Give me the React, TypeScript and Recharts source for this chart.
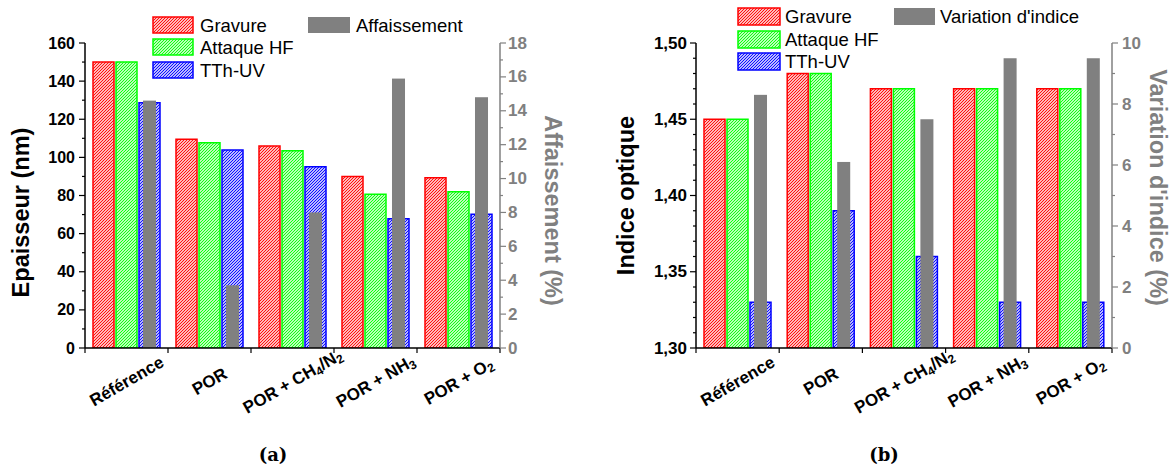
import { BarChart, Bar, XAxis, YAxis, Label } from "recharts";

const CATEGORIES = ["Référence", "POR", "POR + CH_4/N_2", "POR + NH_3", "POR + O_2"];

// (a) épaisseur (nm) et affaissement (%)
const GRAVURE_EP = [150, 109.5, 106, 90, 89.3];
const HF_EP = [150, 107.7, 103.5, 80.6, 82];
const UV_EP = [128.7, 103.9, 95.1, 67.8, 70.1];
const AFFAISSEMENT = [14.6, 3.7, 8.0, 15.9, 14.8];

// (b) indice optique et variation d'indice (%)
const GRAVURE_IND = [1.45, 1.48, 1.47, 1.47, 1.47];
const HF_IND = [1.45, 1.48, 1.47, 1.47, 1.47];
const UV_IND = [1.33, 1.39, 1.36, 1.33, 1.33];
const VARIATION = [8.3, 6.1, 7.5, 9.5, 9.5];

const EP_TICKS = [0, 10, 20, 30, 40, 50, 60, 70, 80, 90, 100, 110, 120, 130, 140, 150, 160];
const AFF_TICKS = [0, 1, 2, 3, 4, 5, 6, 7, 8, 9, 10, 11, 12, 13, 14, 15, 16, 17, 18];
const IND_TICKS = [
  1.3, 1.31, 1.32, 1.33, 1.34, 1.35, 1.36, 1.37, 1.38, 1.39, 1.4,
  1.41, 1.42, 1.43, 1.44, 1.45, 1.46, 1.47, 1.48, 1.49, 1.5,
];
const VAR_TICKS = [0, 1, 2, 3, 4, 5, 6, 7, 8, 9, 10];

const SERIES = ["Gravure", "Attaque HF", "TTh-UV"];
const RED = "#ff0000";
const GREEN = "#00ff00";
const BLUE = "#0000ff";
const GRAY = "#808080";
const FONT = "'Liberation Sans', Arial, sans-serif";

type Row = { cat: string; gravure: number; hf: number; uv: number; gray: number };

const buildRows = (g: number[], h: number[], u: number[], gr: number[]): Row[] =>
  CATEGORIES.map((cat, i) => ({ cat, gravure: g[i], hf: h[i], uv: u[i], gray: gr[i] }));

const rowsA = buildRows(GRAVURE_EP, HF_EP, UV_EP, AFFAISSEMENT);
const rowsB = buildRows(GRAVURE_IND, HF_IND, UV_IND, VARIATION);

// "/" hatch, 3px period
function HatchDefs({ prefix }: { prefix: string }) {
  const list: [string, string][] = [
    ["red", RED],
    ["green", GREEN],
    ["blue", BLUE],
  ];
  return (
    <defs>
      {list.map(([k, c]) => (
        <pattern key={k} id={`${prefix}-${k}`} patternUnits="userSpaceOnUse" width={3} height={3}>
          <rect width={3} height={3} fill="#fff" />
          <path d="M0,3 L3,0 M-1,1 L1,-1 M2,4 L4,2" stroke={c} strokeWidth={1.05} />
        </pattern>
      ))}
    </defs>
  );
}

// category label with simple "_d" subscripts
function CatLabel({ text, x, y }: { text: string; x: number; y: number }) {
  const parts = text.split(/_(\d)/);
  let shifted = false;
  return (
    <text
      transform={`translate(${x},${y}) rotate(-30)`}
      textAnchor="middle"
      dominantBaseline="central"
      fontFamily={FONT}
      fontWeight="bold"
      fontSize={17}
      fill="#000"
    >
      {parts.map((p, i) => {
        if (p === "") return null;
        if (i % 2 === 1) {
          shifted = true;
          return (
            <tspan key={i} dy={5} fontSize={12}>
              {p}
            </tspan>
          );
        }
        const dy = shifted ? -5 : 0;
        shifted = false;
        return (
          <tspan key={i} dy={dy}>
            {p}
          </tspan>
        );
      })}
    </text>
  );
}

type PanelCfg = {
  id: string;
  left: number;
  width: number;
  axisLeftW: number;
  axisRightW: number;
  data: Row[];
  leftDomain: [number, number];
  leftTicks: number[];
  leftMajor: (v: number) => boolean;
  leftFmt: (v: number) => string;
  leftFont: number;
  leftGap: number;
  rightDomain: [number, number];
  rightTicks: number[];
  rightMajor: (v: number) => boolean;
  rightFont: number;
  rightGap: number;
  leftTitle: string;
  leftTitleDx: number;
  leftTitleDy: number;
  rightTitle: string;
  rightTitleDx: number;
  rightTitleDy: number;
};

const HEIGHT = 464;
const TOP = 43;
const AXIS_Y = 348;

function Panel(cfg: PanelCfg) {
  const plotW = cfg.width - cfg.axisLeftW - cfg.axisRightW;
  const band = plotW / CATEGORIES.length;
  const p = cfg.id;

  const leftTick = (props: any) => {
    const { x, y, payload } = props;
    const v = payload.value as number;
    const major = cfg.leftMajor(v);
    return (
      <g>
        <line x1={x - (major ? 6 : 3)} x2={x} y1={y} y2={y} stroke="#000" strokeWidth={1.2} />
        {major && (
          <text
            x={x - cfg.leftGap}
            y={y}
            textAnchor="end"
            dominantBaseline="central"
            fontFamily={FONT}
            fontWeight="bold"
            fontSize={cfg.leftFont}
            fill="#000"
          >
            {cfg.leftFmt(v)}
          </text>
        )}
      </g>
    );
  };

  const rightTick = (props: any) => {
    const { x, y, payload } = props;
    const v = payload.value as number;
    const major = cfg.rightMajor(v);
    return (
      <g>
        <line x1={x} x2={x + (major ? 6 : 3)} y1={y} y2={y} stroke={GRAY} strokeWidth={1.2} />
        {major && (
          <text
            x={x + cfg.rightGap}
            y={y}
            textAnchor="start"
            dominantBaseline="central"
            fontFamily={FONT}
            fontWeight="bold"
            fontSize={cfg.rightFont}
            fill={GRAY}
          >
            {v}
          </text>
        )}
      </g>
    );
  };

  const catTick = (props: any) => {
    const { x, y, payload, index } = props;
    return (
      <g>
        <line x1={x + band / 2} x2={x + band / 2} y1={y} y2={y + 5} stroke="#000" strokeWidth={1.2} />
        {index === 0 && (
          <line x1={x - band / 2} x2={x - band / 2} y1={y} y2={y + 5} stroke="#000" strokeWidth={1.2} />
        )}
        <CatLabel text={payload.value} x={x} y={y + 33} />
      </g>
    );
  };

  const grayShape = (props: any) => {
    const { x, y, width, height } = props;
    if (!height || height <= 0) return <g />;
    const w = width * 0.62;
    return <rect x={x + (width - w) / 2} y={y} width={w} height={height} fill={GRAY} />;
  };

  const leftTitle = (props: any) => {
    const vb = props.viewBox;
    const cx = vb.x + cfg.leftTitleDx;
    const cy = vb.y + vb.height / 2 + cfg.leftTitleDy;
    return (
      <text
        x={cx}
        y={cy}
        transform={`rotate(-90 ${cx} ${cy})`}
        textAnchor="middle"
        dominantBaseline="central"
        fontFamily={FONT}
        fontWeight="bold"
        fontSize={23.5}
        fill="#000"
      >
        {cfg.leftTitle}
      </text>
    );
  };

  const rightTitle = (props: any) => {
    const vb = props.viewBox;
    const cx = vb.x + cfg.rightTitleDx;
    const cy = vb.y + vb.height / 2 + cfg.rightTitleDy;
    return (
      <text
        x={cx}
        y={cy}
        transform={`rotate(90 ${cx} ${cy})`}
        textAnchor="middle"
        dominantBaseline="central"
        fontFamily={FONT}
        fontWeight="bold"
        fontSize={23.5}
        fill={GRAY}
      >
        {cfg.rightTitle}
      </text>
    );
  };

  return (
    <div style={{ position: "absolute", left: cfg.left, top: 0 }}>
      <BarChart
        width={cfg.width}
        height={HEIGHT}
        data={cfg.data}
        margin={{ top: TOP, right: 0, bottom: 0, left: 0 }}
        barCategoryGap={8}
        barGap={2}
      >
        <HatchDefs prefix={p} />
        <XAxis xAxisId="g" dataKey="cat" hide height={0} />
        <XAxis
          xAxisId="main"
          dataKey="cat"
          height={HEIGHT - AXIS_Y}
          interval={0}
          tickSize={0}
          tickMargin={0}
          tickLine={false}
          axisLine={{ stroke: "#000", strokeWidth: 1.5 }}
          tick={catTick}
        />
        <YAxis
          yAxisId="left"
          width={cfg.axisLeftW}
          domain={cfg.leftDomain}
          ticks={cfg.leftTicks}
          interval={0}
          allowDataOverflow
          tickSize={0}
          tickMargin={0}
          tickLine={false}
          axisLine={{ stroke: "#000", strokeWidth: 1.5 }}
          tick={leftTick}
        >
          <Label content={leftTitle} />
        </YAxis>
        <YAxis
          yAxisId="right"
          orientation="right"
          width={cfg.axisRightW}
          domain={cfg.rightDomain}
          ticks={cfg.rightTicks}
          interval={0}
          allowDataOverflow
          tickSize={0}
          tickMargin={0}
          tickLine={false}
          axisLine={{ stroke: GRAY, strokeWidth: 1.5 }}
          tick={rightTick}
        >
          <Label content={rightTitle} />
        </YAxis>
        <Bar
          xAxisId="main"
          yAxisId="left"
          dataKey="gravure"
          fill={`url(#${p}-red)`}
          stroke={RED}
          strokeWidth={1.5}
          isAnimationActive={false}
        />
        <Bar
          xAxisId="main"
          yAxisId="left"
          dataKey="hf"
          fill={`url(#${p}-green)`}
          stroke={GREEN}
          strokeWidth={1.5}
          isAnimationActive={false}
        />
        <Bar
          xAxisId="main"
          yAxisId="left"
          dataKey="uv"
          fill={`url(#${p}-blue)`}
          stroke={BLUE}
          strokeWidth={1.5}
          isAnimationActive={false}
        />
        {/* placeholders so the gray bar lands in the blue bar's slot */}
        <Bar xAxisId="g" yAxisId="left" dataKey="gravure" fill="none" stroke="none" isAnimationActive={false} />
        <Bar xAxisId="g" yAxisId="left" dataKey="hf" fill="none" stroke="none" isAnimationActive={false} />
        <Bar xAxisId="g" yAxisId="right" dataKey="gray" fill={GRAY} shape={grayShape} isAnimationActive={false} />
      </BarChart>
    </div>
  );
}

type LegendItem = { label: string; fill: string; stroke?: string; x: number; y: number; w: number; h: number; tx: number };

function LegendOverlay({ items, prefix }: { items: LegendItem[]; prefix: string }) {
  return (
    <svg
      width={1174}
      height={HEIGHT}
      style={{ position: "absolute", left: 0, top: 0, pointerEvents: "none" }}
    >
      <HatchDefs prefix={prefix} />
      {items.map((it) => (
        <g key={it.label}>
          <rect
            x={it.x}
            y={it.y}
            width={it.w}
            height={it.h}
            fill={it.fill}
            stroke={it.stroke ?? "none"}
            strokeWidth={1.5}
          />
          <text
            x={it.tx}
            y={it.y + it.h / 2}
            dominantBaseline="central"
            fontFamily={FONT}
            fontSize={18.5}
            fill="#000"
          >
            {it.label}
          </text>
        </g>
      ))}
    </svg>
  );
}

const legendItems = (
  prefix: string,
  x: number,
  ys: number[],
  w: number,
  h: number,
  tx: number,
  grayLabel: string,
  gx: number,
  gw: number,
  gtx: number,
): LegendItem[] => [
  ...SERIES.map((label, i) => ({
    label,
    fill: `url(#${prefix}-${["red", "green", "blue"][i]})`,
    stroke: [RED, GREEN, BLUE][i],
    x,
    y: ys[i],
    w,
    h,
    tx,
  })),
  { label: grayLabel, fill: GRAY, x: gx, y: ys[0], w: gw, h, tx: gtx },
];

const captionStyle = {
  position: "absolute" as const,
  top: 454,
  transform: "translate(-50%, -50%)",
  fontFamily: "'DejaVu Serif', serif",
  fontWeight: "bold" as const,
  fontSize: 18,
};

export default function App() {
  const legend = [
    ...legendItems("lg", 153, [17, 39, 62], 40, 16, 200, "Affaissement", 308, 42, 356),
    ...legendItems("lg", 738, [8, 31, 53], 42, 17, 785, "Variation d'indice", 894, 41, 940),
  ];
  return (
    <div
      style={{
        position: "absolute",
        left: 0,
        top: 0,
        width: 1174,
        height: HEIGHT,
        background: "#fff",
        overflow: "hidden",
      }}
    >
      <Panel
        id="pa"
        left={0}
        width={590}
        axisLeftW={85}
        axisRightW={90}
        data={rowsA}
        leftDomain={[0, 160]}
        leftTicks={EP_TICKS}
        leftMajor={(v) => v % 20 === 0}
        leftFmt={(v) => String(v)}
        leftFont={16}
        leftGap={10}
        rightDomain={[0, 18]}
        rightTicks={AFF_TICKS}
        rightMajor={(v) => v % 2 === 0}
        rightFont={17}
        rightGap={8}
        leftTitle="Epaisseur (nm)"
        leftTitleDx={21}
        leftTitleDy={17}
        rightTitle="Affaissement (%)"
        rightTitleDx={53}
        rightTitleDy={15}
      />
      <Panel
        id="pb"
        left={590}
        width={584}
        axisLeftW={106}
        axisRightW={62}
        data={rowsB}
        leftDomain={[1.3, 1.5]}
        leftTicks={IND_TICKS}
        leftMajor={(v) => Math.round(v * 100) % 5 === 0}
        leftFmt={(v) => v.toFixed(2).replace(".", ",")}
        leftFont={17}
        leftGap={9}
        rightDomain={[0, 10]}
        rightTicks={VAR_TICKS}
        rightMajor={(v) => v % 2 === 0}
        rightFont={17}
        rightGap={10}
        leftTitle="Indice optique"
        leftTitleDx={36}
        leftTitleDy={0}
        rightTitle="Variation d'indice (%)"
        rightTitleDx={46}
        rightTitleDy={-8}
      />
      <LegendOverlay items={legend} prefix="lg" />
      <div style={{ ...captionStyle, left: 273 }}>(a)</div>
      <div style={{ ...captionStyle, left: 884 }}>(b)</div>
    </div>
  );
}
